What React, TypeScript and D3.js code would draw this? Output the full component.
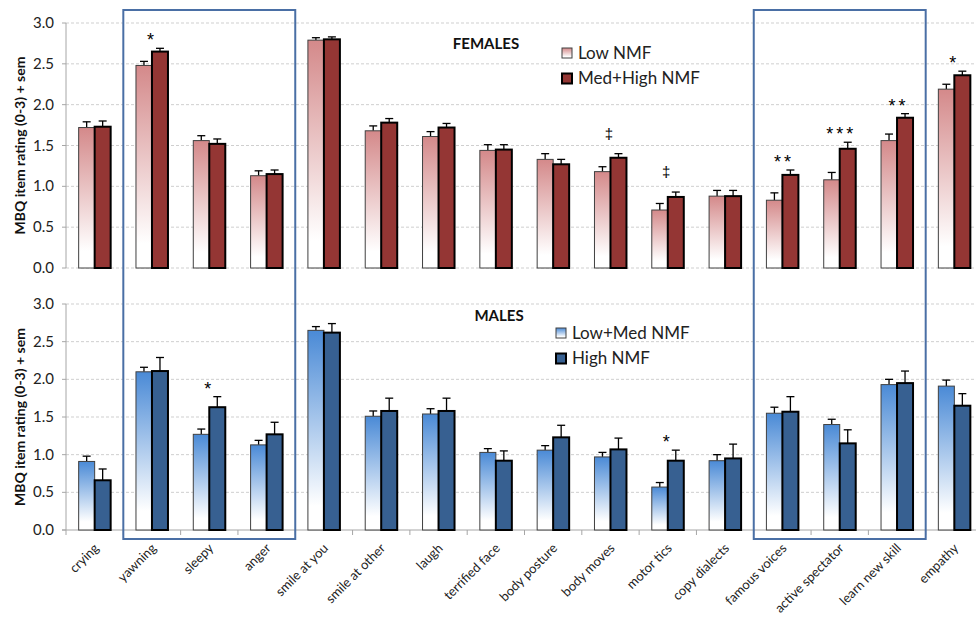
import { useEffect, useRef } from "react";
import * as d3 from "d3";

const categories = [
  "crying", "yawning", "sleepy", "anger", "smile at you", "smile at other", "laugh",
  "terrified face", "body posture", "body moves", "motor tics", "copy dialects",
  "famous voices", "active spectator", "learn new skill", "empathy",
];

// FEMALES
const femLow = [1.72, 2.48, 1.56, 1.13, 2.79, 1.68, 1.61, 1.44, 1.33, 1.18, 0.71, 0.88, 0.83, 1.08, 1.56, 2.19];
const femLowErr = [0.07, 0.05, 0.06, 0.06, 0.03, 0.06, 0.06, 0.07, 0.07, 0.06, 0.08, 0.07, 0.09, 0.09, 0.08, 0.06];
const femHigh = [1.73, 2.65, 1.52, 1.15, 2.80, 1.78, 1.72, 1.45, 1.27, 1.35, 0.87, 0.88, 1.14, 1.46, 1.84, 2.36];
const femHighErr = [0.07, 0.04, 0.06, 0.05, 0.03, 0.05, 0.05, 0.06, 0.06, 0.05, 0.06, 0.07, 0.06, 0.08, 0.05, 0.05];
const femMarks = ["", "*", "", "", "", "", "", "", "", "‡", "‡", "", "**", "***", "**", "*"];

// MALES
const maleLow = [0.91, 2.10, 1.27, 1.13, 2.65, 1.51, 1.54, 1.03, 1.06, 0.97, 0.57, 0.92, 1.55, 1.40, 1.93, 1.91];
const maleLowErr = [0.07, 0.06, 0.07, 0.06, 0.05, 0.07, 0.07, 0.05, 0.06, 0.06, 0.06, 0.08, 0.08, 0.07, 0.07, 0.08];
const maleHigh = [0.66, 2.11, 1.63, 1.27, 2.62, 1.58, 1.58, 0.92, 1.23, 1.07, 0.92, 0.95, 1.57, 1.15, 1.95, 1.65];
const maleHighErr = [0.15, 0.18, 0.14, 0.16, 0.12, 0.17, 0.17, 0.13, 0.16, 0.15, 0.14, 0.19, 0.20, 0.18, 0.16, 0.16];
const maleMarks = ["", "", "*", "", "", "", "", "", "", "", "*", "", "", "", "", ""];

const yTicks = [0, 0.5, 1, 1.5, 2, 2.5, 3];
const boxes = [["yawning", "anger"], ["famous voices", "learn new skill"]];

const FONT = "Lato, 'Open Sans', sans-serif";
const MARK_FONT = "'Liberation Sans', Arial, sans-serif";

export default function App() {
  const ref = useRef<SVGSVGElement>(null);

  useEffect(() => {
    const svg = d3.select(ref.current);
    svg.selectAll("*").remove();
    const W = 976;

    const x = d3.scaleBand().domain(categories).range([66, 983]).paddingInner(0).paddingOuter(0);
    const cw = x.bandwidth();
    const pair = d3.scaleBand().domain(["low", "high"]).range([(cw - 32) / 2, (cw + 32) / 2]);

    const defs = svg.append("defs");
    const grad = (id, top) => {
      const g = defs.append("linearGradient").attr("id", id)
        .attr("x1", 0).attr("y1", 0).attr("x2", 0).attr("y2", 1);
      g.append("stop").attr("offset", "0%").attr("stop-color", top);
      g.append("stop").attr("offset", "88%").attr("stop-color", "#ffffff");
      g.append("stop").attr("offset", "100%").attr("stop-color", "#ffffff");
    };
    grad("pinkGrad", "#d4898a");
    grad("blueGrad", "#4a8ad6");

    const panels = [
      {
        y: d3.scaleLinear().domain([0, 3]).range([268, 23]),
        low: femLow, lowErr: femLowErr, high: femHigh, highErr: femHighErr, marks: femMarks,
        lowFill: "url(#pinkGrad)", highFill: "#943634",
        title: "FEMALES", titleX: 486, titleY: 49,
        legend: ["Low NMF", "Med+High NMF"], legX: 562, legY: 48,
        axis: false,
      },
      {
        y: d3.scaleLinear().domain([0, 3]).range([530, 304]),
        low: maleLow, lowErr: maleLowErr, high: maleHigh, highErr: maleHighErr, marks: maleMarks,
        lowFill: "url(#blueGrad)", highFill: "#376091",
        title: "MALES", titleX: 499, titleY: 321,
        legend: ["Low+Med NMF", "High NMF"], legX: 556, legY: 328,
        axis: true,
      },
    ];

    panels.forEach((p) => {
      const g = svg.append("g");
      const [y0, y1] = p.y.range();

      // gridlines
      g.selectAll(".grid")
        .data(p.axis ? yTicks.slice(1) : yTicks)
        .enter().append("line")
        .attr("x1", 66).attr("x2", W)
        .attr("y1", (d) => p.y(d)).attr("y2", (d) => p.y(d))
        .attr("stroke", "#cfcfcf").attr("stroke-width", 1)
        .attr("stroke-dasharray", "3,2");

      // y axis
      g.append("line").attr("x1", 66).attr("x2", 66).attr("y1", y0).attr("y2", y1)
        .attr("stroke", "#a6a6a6");
      g.selectAll(".ytick").data(yTicks).enter().append("line")
        .attr("x1", 62).attr("x2", 66)
        .attr("y1", (d) => p.y(d)).attr("y2", (d) => p.y(d))
        .attr("stroke", "#a6a6a6");
      g.selectAll(".ylab").data(yTicks).enter().append("text")
        .attr("x", 54).attr("y", (d) => p.y(d) + 5)
        .attr("text-anchor", "end").attr("font-family", FONT).attr("font-size", 15)
        .attr("fill", "#222")
        .text((d) => d.toFixed(1));

      g.append("text")
        .attr("transform", `translate(25, ${(y0 + y1) / 2}) rotate(-90)`)
        .attr("text-anchor", "middle").attr("font-family", FONT).attr("font-size", 14)
        .attr("font-weight", "bold").attr("fill", "#111")
        .text("MBQ item rating (0-3) + sem");

      if (p.axis) {
        g.append("line").attr("x1", 62).attr("x2", W).attr("y1", y0).attr("y2", y0)
          .attr("stroke", "#a6a6a6");
        g.selectAll(".xtick").data(categories).enter().append("line")
          .attr("x1", (d) => x(d)).attr("x2", (d) => x(d))
          .attr("y1", y0).attr("y2", y0 + 5)
          .attr("stroke", "#a6a6a6");
      }

      // error bars
      const err = (vals, errs, key) => {
        categories.forEach((c, i) => {
          const cx = x(c) + pair(key) + pair.bandwidth() / 2;
          const top = p.y(vals[i] + errs[i]);
          g.append("line").attr("x1", cx).attr("x2", cx)
            .attr("y1", p.y(vals[i])).attr("y2", top).attr("stroke", "#000").attr("stroke-width", 1.3);
          g.append("line").attr("x1", cx - 4).attr("x2", cx + 4)
            .attr("y1", top).attr("y2", top).attr("stroke", "#000").attr("stroke-width", 1.3);
        });
      };
      err(p.low, p.lowErr, "low");
      err(p.high, p.highErr, "high");

      // bars
      g.selectAll(".low").data(p.low).enter().append("rect")
        .attr("x", (d, i) => x(categories[i]) + pair("low"))
        .attr("y", (d) => p.y(d))
        .attr("width", pair.bandwidth())
        .attr("height", (d) => y0 - p.y(d))
        .attr("fill", p.lowFill).attr("stroke", "#404040").attr("stroke-width", 1);
      g.selectAll(".high").data(p.high).enter().append("rect")
        .attr("x", (d, i) => x(categories[i]) + pair("high"))
        .attr("y", (d) => p.y(d))
        .attr("width", pair.bandwidth())
        .attr("height", (d) => y0 - p.y(d))
        .attr("fill", p.highFill).attr("stroke", "#000").attr("stroke-width", 2);

      // significance marks
      g.selectAll(".mark").data(p.marks).enter().append("text")
        .attr("x", (d, i) => x(categories[i]) + cw / 2 + (d.length > 1 ? 1.5 : 0))
        .attr("y", (d, i) => {
          const top = Math.max(p.low[i] + p.lowErr[i], p.high[i] + p.highErr[i]);
          return p.y(top) - (d === "‡" ? 15 : 2);
        })
        .attr("text-anchor", "middle").attr("font-family", MARK_FONT)
        .attr("font-size", (d) => (d === "‡" ? 15 : 18)).attr("letter-spacing", 3)
        .attr("fill", "#000")
        .text((d) => d);

      // title
      g.append("text").attr("x", p.titleX).attr("y", p.titleY)
        .attr("text-anchor", "middle").attr("font-family", FONT).attr("font-size", 15)
        .attr("font-weight", "bold").attr("fill", "#111").text(p.title);

      // legend
      p.legend.forEach((lab, i) => {
        const ly = p.legY + i * 25.5;
        g.append("rect").attr("x", p.legX).attr("y", ly).attr("width", 10).attr("height", 10)
          .attr("fill", i === 0 ? p.lowFill : p.highFill)
          .attr("stroke", i === 0 ? "#404040" : "#000").attr("stroke-width", i === 0 ? 1 : 2);
        g.append("text").attr("x", p.legX + 16).attr("y", ly + 10.5)
          .attr("font-family", FONT).attr("font-size", 17).attr("fill", "#222").text(lab);
      });
    });

    // x labels
    svg.selectAll(".xlab").data(categories).enter().append("text")
      .attr("transform", (d) => `translate(${x(d) + cw / 2 + 5}, 549) rotate(-45)`)
      .attr("text-anchor", "end").attr("font-family", FONT).attr("font-size", 13)
      .attr("fill", "#222")
      .text((d) => d);

    // highlight boxes
    boxes.forEach(([a, b]) => {
      svg.append("rect")
        .attr("x", x(a)).attr("y", 10)
        .attr("width", x(b) + cw - x(a)).attr("height", 529)
        .attr("fill", "none").attr("stroke", "#4a6fa5").attr("stroke-width", 2);
    });
  }, []);

  return (
    <svg ref={ref} width={976} height={617}
      style={{ position: "absolute", left: 0, top: 0, background: "#fff" }} />
  );
}
